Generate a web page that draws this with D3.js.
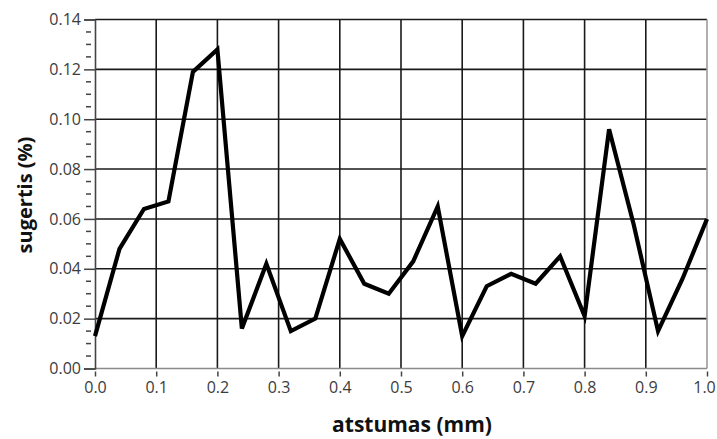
<!DOCTYPE html>
<html>
<head>
<meta charset="utf-8">
<script src="https://cdnjs.cloudflare.com/ajax/libs/d3/7.8.5/d3.min.js"></script>
<style>
  body { margin: 0; background: #fff; }
  svg { display: block; }
  .tick text { font-family: "Open Sans", sans-serif; fill: #3c3c3c; }
</style>
</head>
<body>
<script>
// distance (mm) and absorption (%)
const distances = [0.00, 0.04, 0.08, 0.12, 0.16, 0.20, 0.24, 0.28, 0.32, 0.36, 0.40, 0.44, 0.48,
                   0.52, 0.56, 0.60, 0.64, 0.68, 0.72, 0.76, 0.80, 0.84, 0.88, 0.92, 0.96, 1.00]
const absorption = [0.013, 0.048, 0.064, 0.067, 0.119, 0.128, 0.016, 0.042, 0.015, 0.020, 0.052, 0.034, 0.030,
                    0.043, 0.065, 0.013, 0.033, 0.038, 0.034, 0.045, 0.021, 0.096, 0.058, 0.015, 0.036, 0.060]
const xTicks = [0, 0.1, 0.2, 0.3, 0.4, 0.5, 0.6, 0.7, 0.8, 0.9, 1.0]
const yTicks = [0, 0.02, 0.04, 0.06, 0.08, 0.10, 0.12, 0.14]
const yMinorTicks = d3.range(0, 0.1401, 0.005)

const W = 717, H = 439
const margin = { top: 19.5, right: 10, bottom: 70.5, left: 95 }

const svg = d3.select('body').append('svg')
    .attr('width', W)
    .attr('height', H)

const xScale = d3.scaleLinear()
    .domain([0, 1])
    .range([margin.left, W - margin.right])

const yScale = d3.scaleLinear()
    .domain([0, 0.14])
    .range([H - margin.bottom, margin.top])

// grid
const grid = svg.append('g')
grid.selectAll('.vg').data(xTicks.slice(1, -1))
    .enter().append('line')
    .attr('x1', d => xScale(d)).attr('x2', d => xScale(d))
    .attr('y1', yScale(0)).attr('y2', yScale(0.14))
    .attr('stroke', '#1a1a1a').attr('stroke-width', 1.6)
grid.selectAll('.hg').data(yTicks.slice(1))
    .enter().append('line')
    .attr('x1', xScale(0)).attr('x2', xScale(1))
    .attr('y1', d => yScale(d)).attr('y2', d => yScale(d))
    .attr('stroke', '#1a1a1a').attr('stroke-width', 1.6)

// frame: right and bottom lighter
svg.append('line')
    .attr('x1', xScale(1)).attr('x2', xScale(1))
    .attr('y1', yScale(0)).attr('y2', yScale(0.14))
    .attr('stroke', '#9a9a9a').attr('stroke-width', 1.6)
svg.append('line')
    .attr('x1', xScale(0)).attr('x2', xScale(1))
    .attr('y1', yScale(0)).attr('y2', yScale(0))
    .attr('stroke', '#8a8a8a').attr('stroke-width', 1.6)

// y axis
const yAxis = svg.append('g')
    .attr('transform', 'translate(' + margin.left + ',0)')
    .call(d3.axisLeft(yScale).tickValues(yTicks).tickFormat(d3.format('.2f')).tickSize(11).tickPadding(3))
yAxis.select('.domain').attr('stroke', '#444').attr('stroke-width', 1.6)
yAxis.selectAll('.tick line').attr('stroke', '#444').attr('stroke-width', 1.5)
yAxis.selectAll('.tick text').style('font-size', '16px')

svg.append('g')
    .attr('transform', 'translate(' + margin.left + ',0)')
    .selectAll('line').data(yMinorTicks.filter((d, i) => i % 4 !== 0))
    .enter().append('line')
    .attr('x1', -9).attr('x2', -4)
    .attr('y1', d => yScale(d)).attr('y2', d => yScale(d))
    .attr('stroke', '#444').attr('stroke-width', 1.5)

// x axis
const xAxis = svg.append('g')
    .attr('transform', 'translate(0,' + (H - margin.bottom) + ')')
    .call(d3.axisBottom(xScale).tickValues(xTicks).tickFormat(d3.format('.1f')).tickSize(8).tickPadding(5))
xAxis.select('.domain').remove()
xAxis.selectAll('.tick line').attr('stroke', '#444').attr('stroke-width', 1.5).attr('y1', 3)
xAxis.selectAll('.tick text').style('font-size', '16px')
// keep the last label inside the window
xAxis.selectAll('.tick text').filter(d => d === 1).attr('dx', -3)

// data line
const line = d3.line()
    .x((d, i) => xScale(distances[i]))
    .y(d => yScale(d))

svg.append('path')
    .datum(absorption)
    .attr('d', line)
    .attr('fill', 'none')
    .attr('stroke', '#000')
    .attr('stroke-width', 4.2)
    .attr('stroke-linejoin', 'miter')

// axis titles
svg.append('text')
    .attr('x', 412).attr('y', 432)
    .attr('text-anchor', 'middle')
    .style('font-family', '"Open Sans", sans-serif')
    .style('font-weight', 'bold')
    .style('font-size', '21px')
    .attr('fill', '#111')
    .text('atstumas (mm)')

svg.append('text')
    .attr('transform', 'translate(32,195) rotate(-90)')
    .attr('text-anchor', 'middle')
    .style('font-family', '"Open Sans", sans-serif')
    .style('font-weight', 'bold')
    .style('font-size', '20px')
    .attr('fill', '#111')
    .text('sugertis (%)')
</script>
</body>
</html>
